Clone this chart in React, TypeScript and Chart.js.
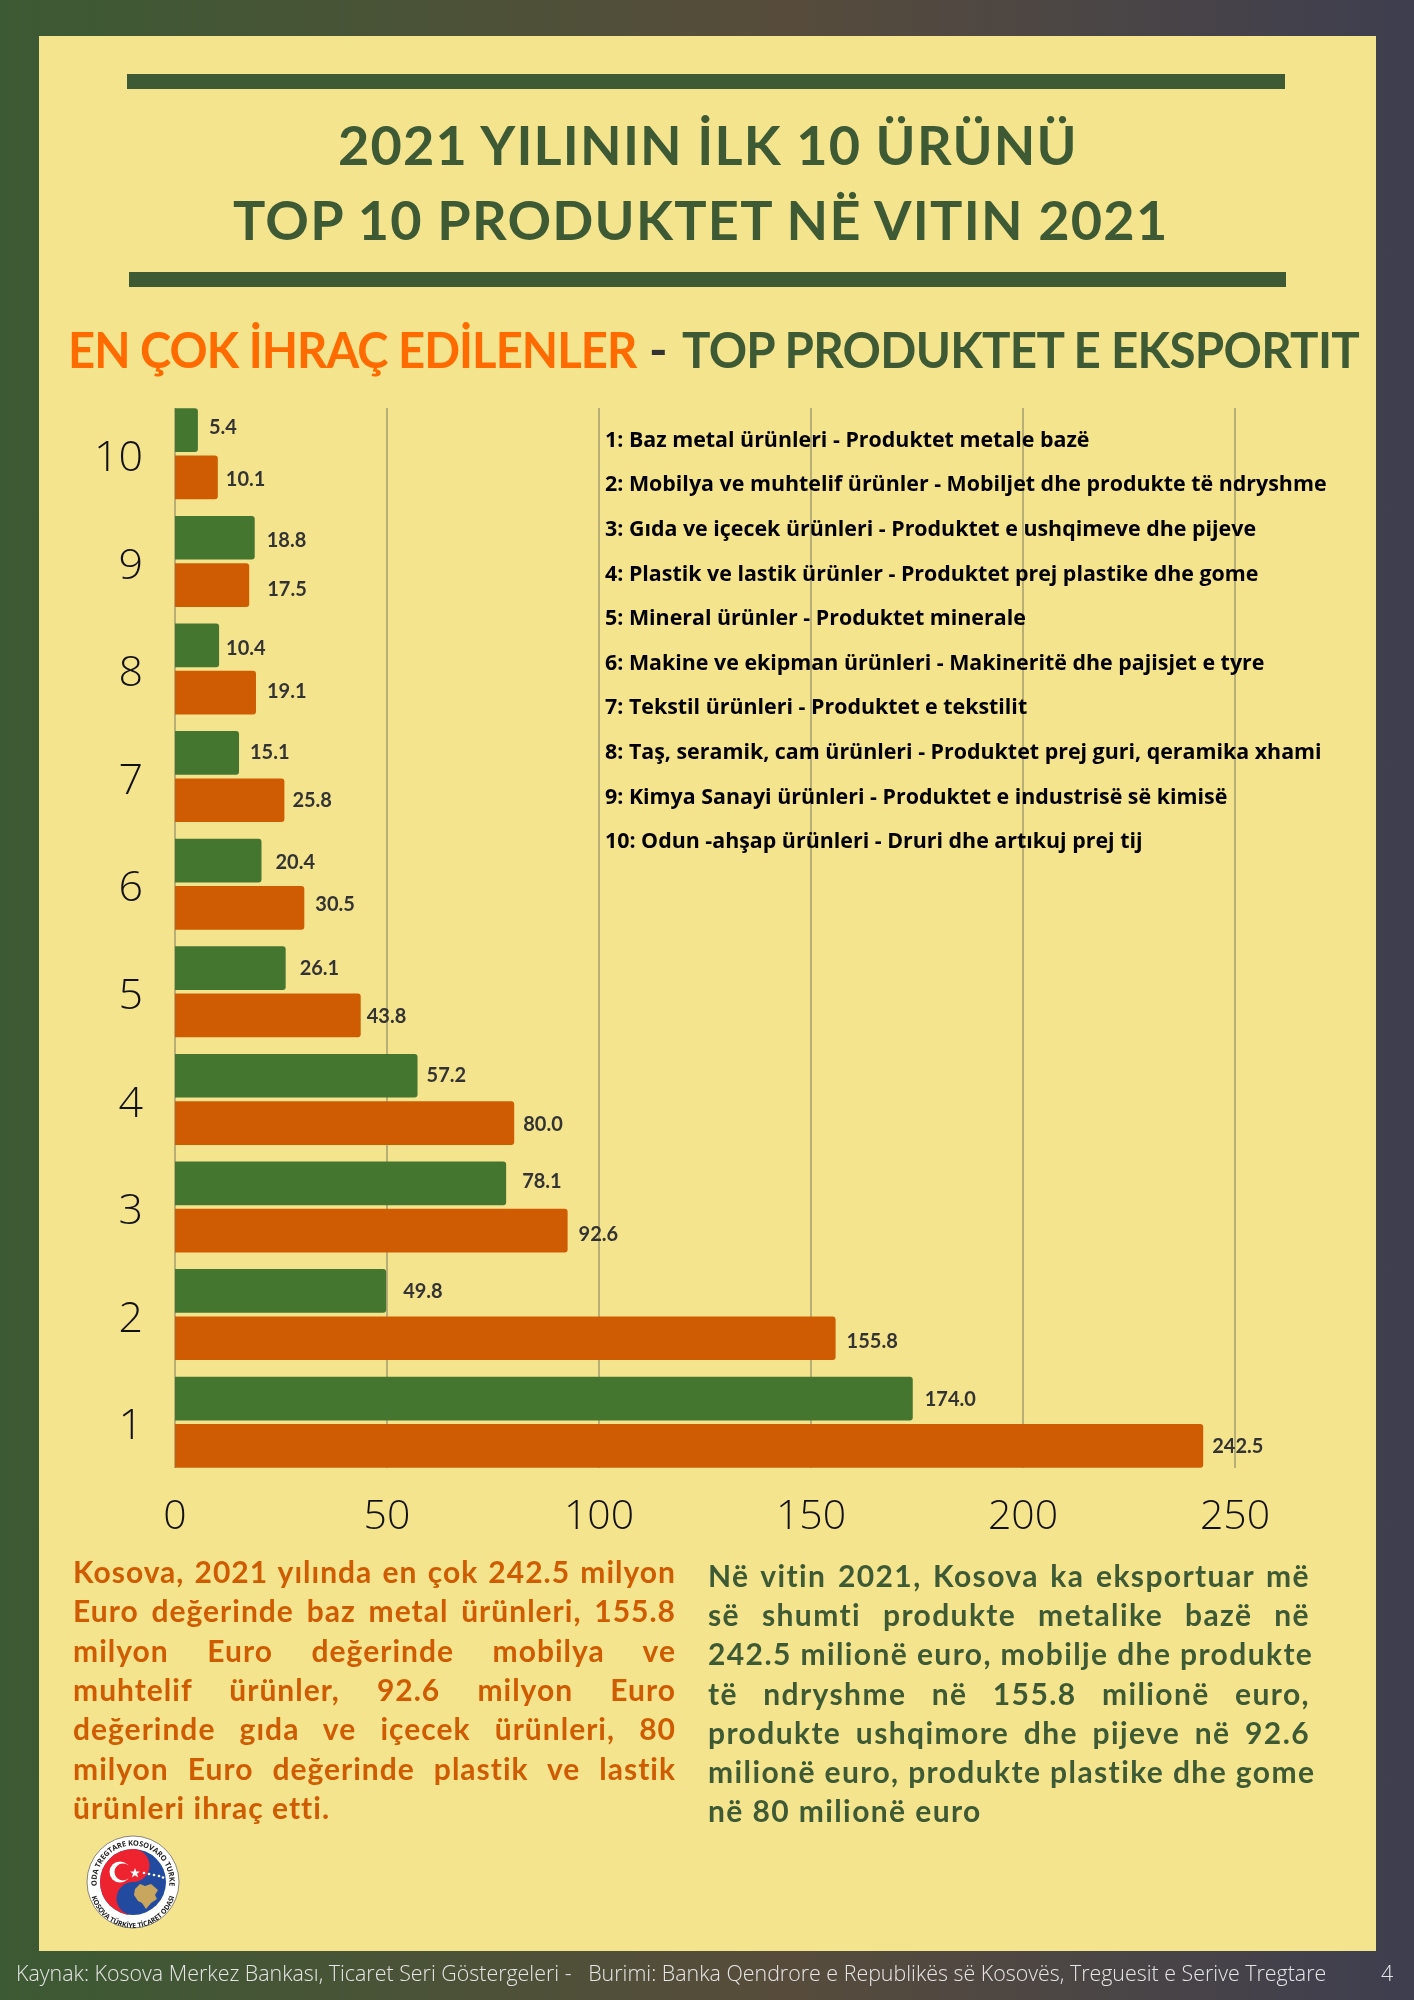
import React, { useEffect, useRef } from "react";
import { Chart, registerables } from "chart.js";

Chart.register(...registerables);

const categories = ["10", "9", "8", "7", "6", "5", "4", "3", "2", "1"];
const greenValues = [5.4, 18.8, 10.4, 15.1, 20.4, 26.1, 57.2, 78.1, 49.8, 174.0];
const orangeValues = [10.1, 17.5, 19.1, 25.8, 30.5, 43.8, 80.0, 92.6, 155.8, 242.5];
const xTicks = [0, 50, 100, 150, 200, 250];

const greenGap = [11, 12, 7, 11, 14, 14, 9, 16, 17, 12];
const orangeGap = [8, 18, 11, 8, 11, 6, 9, 11, 11, 9];
const greenDy = [-3, 3, 3, 0, 2, 0, 0, -2, 1, 1];
const orangeDy = [2, 5, -1, 0, -3, 1, 2, 4, 3, 1];

const legendLines = [
  "1: Baz metal ürünleri - Produktet metale bazë",
  "2: Mobilya ve muhtelif ürünler - Mobiljet dhe produkte të ndryshme",
  "3: Gıda ve içecek ürünleri - Produktet e ushqimeve dhe pijeve",
  "4: Plastik ve lastik ürünler - Produktet prej plastike dhe gome",
  "5: Mineral ürünler - Produktet minerale",
  "6: Makine ve ekipman ürünleri - Makineritë dhe pajisjet e tyre",
  "7: Tekstil ürünleri - Produktet e tekstilit",
  "8: Taş, seramik, cam ürünleri - Produktet prej guri, qeramika xhami",
  "9: Kimya Sanayi ürünleri - Produktet e industrisë së kimisë",
  "10: Odun -ahşap ürünleri - Druri dhe artıkuj prej tij",
];

const leftParagraph = [
  "Kosova, 2021 yılında en çok 242.5 milyon",
  "Euro değerinde baz metal ürünleri, 155.8",
  "milyon Euro değerinde mobilya ve",
  "muhtelif ürünler, 92.6 milyon Euro",
  "değerinde gıda ve içecek  ürünleri, 80",
  "milyon Euro değerinde plastik ve lastik",
  "ürünleri ihraç etti.",
];
const rightParagraph = [
  "Në vitin 2021, Kosova ka eksportuar më",
  "së shumti produkte metalike bazë në",
  "242.5 milionë euro, mobilje dhe produkte",
  "të ndryshme në 155.8 milionë euro,",
  "produkte ushqimore dhe pijeve në 92.6",
  "milionë euro, produkte plastike dhe gome",
  "në 80 milionë euro",
];

const DARK = "#3d5a34";
const CREAM = "#f5e48e";

const gridPlugin = {
  id: "clippedGrid",
  beforeDatasetsDraw(chart: any) {
    const { ctx, scales } = chart;
    ctx.save();
    ctx.strokeStyle = "#b8af77";
    ctx.lineWidth = 2;
    xTicks.forEach((t) => {
      const x = Math.round(scales.x.getPixelForValue(t));
      ctx.beginPath();
      ctx.moveTo(x, 408);
      ctx.lineTo(x, 1468);
      ctx.stroke();
    });
    ctx.restore();
  },
};

const valueLabelPlugin = {
  id: "valueLabels",
  afterDatasetsDraw(chart: any) {
    const { ctx } = chart;
    ctx.save();
    ctx.font = "bold 20px Lato";
    ctx.fillStyle = "#333333";
    ctx.textAlign = "left";
    ctx.textBaseline = "middle";
    [greenGap, orangeGap].forEach((gaps, d) => {
      const dys = d === 0 ? greenDy : orangeDy;
      chart.getDatasetMeta(d).data.forEach((el: any, i: number) => {
        const v = chart.data.datasets[d].data[i] as number;
        ctx.fillText(v.toFixed(1), el.x + gaps[i], el.y + dys[i]);
      });
    });
    ctx.restore();
  },
};

function Txt(props: { x: number; cy: number; size: number; color: string; weight?: number; font?: string; ls?: number; w?: number; justify?: boolean; sx?: number; children: any }) {
  const h = props.size * 1.6;
  const s: any = {
    position: "absolute",
    left: props.x,
    top: props.cy - h / 2,
    height: h,
    lineHeight: h + "px",
    fontSize: props.size,
    color: props.color,
    fontWeight: props.weight ?? 400,
    fontFamily: props.font ?? "Lato",
    letterSpacing: props.ls ?? 0,
    whiteSpace: props.justify ? "nowrap" : "pre",
  };
  if (props.w) s.width = props.w;
  if (props.justify) {
    s.textAlign = "justify";
    s.textAlignLast = "justify";
  }
  if (props.sx) {
    s.transform = `scaleX(${props.sx})`;
    s.transformOrigin = "left center";
  }
  return <div style={s}>{props.children}</div>;
}

function Logo() {
  return (
    <svg style={{ position: "absolute", left: 85, top: 1834 }} width={96} height={96} viewBox="-48 -48 96 96">
      <circle r={46} fill="#ffffff" stroke="#555" strokeWidth={0.7} />
      <circle r={33} fill="#224b9f" />
      <path d="M0,-33 A16.5,16.5 0 0 1 0,0 A16.5,16.5 0 0 0 0,33 A33,33 0 0 1 0,-33 Z" fill="#ee2330" />
      <circle cx={-13} cy={-10} r={10.5} fill="#ffffff" />
      <circle cx={-10} cy={-10} r={8.5} fill="#ee2330" />
      <polygon points="2,-14 3.3,-10.5 7,-10.5 4,-8.2 5.2,-4.6 2,-6.8 -1.2,-4.6 0,-8.2 -3,-10.5 0.7,-10.5" fill="#ffffff" />
      <g fill="#ffffff">
        <circle cx={11} cy={-9} r={1.3} />
        <circle cx={16} cy={-8} r={1.3} />
        <circle cx={21} cy={-7} r={1.3} />
        <circle cx={26} cy={-6} r={1.3} />
        <circle cx={30} cy={-4.5} r={1.3} />
      </g>
      <polygon points="2,7 7,2 12,4 18,2 25,8 22,13 24,17 18,21 13,27 9,21 5,19 1,13" fill="#c9a65e" />
      <defs>
        <path id="logoTop" d="M-35.5,8 A36.4,36.4 0 1 1 35.5,8" />
        <path id="logoBottom" d="M-43,3 A43,43 0 0 0 43,3" />
      </defs>
      <text fontFamily="Open Sans" fontWeight={700} fontSize={7.4} fill="#222" letterSpacing={-0.1}>
        <textPath href="#logoTop" startOffset="50%" textAnchor="middle">ODA TREGTARE KOSOVARO TURKE</textPath>
      </text>
      <text fontFamily="Open Sans" fontWeight={700} fontSize={7} fill="#222" letterSpacing={-0.1}>
        <textPath href="#logoBottom" startOffset="50%" textAnchor="middle">KOSOVA TÜRKİYE TİCARET ODASI</textPath>
      </text>
    </svg>
  );
}

export default function App() {
  const ref = useRef<HTMLCanvasElement | null>(null);

  useEffect(() => {
    document.body.style.margin = "0";
    const chart = new Chart(ref.current as HTMLCanvasElement, {
      type: "bar",
      data: {
        labels: categories,
        datasets: [
          { label: "Green", data: greenValues, backgroundColor: "#44762f", borderRadius: { topRight: 3, bottomRight: 3, topLeft: 0, bottomLeft: 0 }, borderSkipped: false, barPercentage: 0.924, categoryPercentage: 0.879 },
          { label: "Orange", data: orangeValues, backgroundColor: "#cf5c03", borderRadius: { topRight: 3, bottomRight: 3, topLeft: 0, bottomLeft: 0 }, borderSkipped: false, barPercentage: 0.924, categoryPercentage: 0.879 },
        ],
      },
      options: {
        indexAxis: "y",
        responsive: false,
        animation: false,
        devicePixelRatio: 1,
        layout: { padding: { left: 0, top: 400, right: 179, bottom: 0 } },
        plugins: { legend: { display: false }, title: { display: false }, tooltip: { enabled: false } },
        scales: {
          x: {
            type: "linear",
            min: 0,
            max: 250,
            afterFit(s: any) { s.height = 524; },
            grid: { display: false },
            border: { display: false },
            ticks: { stepSize: 50, color: "#111111", padding: 9, maxRotation: 0, font: { family: "Open Sans", size: 41, weight: "300" } },
          },
          y: {
            afterFit(s: any) { s.width = 175; },
            grid: { display: false },
            border: { display: false },
            ticks: { color: "#111111", padding: 24, labelOffset: 5, font: { family: "Open Sans", size: 43, weight: "300" } },
          },
        },
      } as any,
      plugins: [gridPlugin, valueLabelPlugin],
    });
    return () => chart.destroy();
  }, []);

  return (
    <div style={{ position: "absolute", left: 0, top: 0, width: 1414, height: 2000, overflow: "hidden", background: "linear-gradient(90deg,#3c5a33 0%,#574c3b 55%,#3e3e4f 100%)" }}>
      <div style={{ position: "absolute", left: 39, top: 36, width: 1337, height: 1915, background: CREAM }} />
      <div style={{ position: "absolute", left: 127, top: 74, width: 1158, height: 15, background: DARK }} />
      <div style={{ position: "absolute", left: 129, top: 272, width: 1157, height: 15, background: DARK }} />

      <Txt x={338} cy={145} size={54} weight={700} color={DARK} ls={1.2}>2021 YILININ İLK 10 ÜRÜNÜ</Txt>
      <Txt x={233} cy={220} size={54} weight={700} color={DARK} ls={1.25}>TOP 10 PRODUKTET NË VITIN 2021</Txt>

      <Txt x={68} cy={349} size={50} weight={700} color="#ff6b00" ls={-1} sx={0.943}>EN ÇOK İHRAÇ EDİLENLER</Txt>
      <Txt x={649} cy={349} size={50} weight={700} color="#333333">-</Txt>
      <Txt x={682} cy={349} size={50} weight={700} color={DARK} ls={-0.75} sx={0.95}>TOP PRODUKTET E EKSPORTIT</Txt>

      <canvas ref={ref} width={1414} height={2000} style={{ position: "absolute", left: 0, top: 0, width: 1414, height: 2000 }} />

      {legendLines.map((t, i) => (
        <Txt key={i} x={605} cy={439 + i * 44.6} size={21.4} weight={700} font="Open Sans" color="#000000">{t}</Txt>
      ))}

      {leftParagraph.map((t, i) => (
        <Txt key={i} x={73} cy={1571 + i * 39.3} size={30} weight={700} color="#cf5c03" ls={1} w={603} justify={i < 6}>{t}</Txt>
      ))}
      {rightParagraph.map((t, i) => (
        <Txt key={i} x={708} cy={1575 + i * 39.2} size={30} weight={700} color={DARK} ls={1.4} w={602} justify={i < 6}>{t}</Txt>
      ))}

      <Logo />

      <Txt x={16} cy={1973} size={21.4} weight={300} font="Open Sans" color="#e6e6e6">{"Kaynak: Kosova Merkez Bankası, Ticaret Seri Göstergeleri -   Burimi: Banka Qendrore e Republikës së Kosovës, Treguesit e Serive Tregtare"}</Txt>
      <Txt x={1381} cy={1973} size={21.4} weight={300} font="Open Sans" color="#e6e6e6">4</Txt>
    </div>
  );
}
